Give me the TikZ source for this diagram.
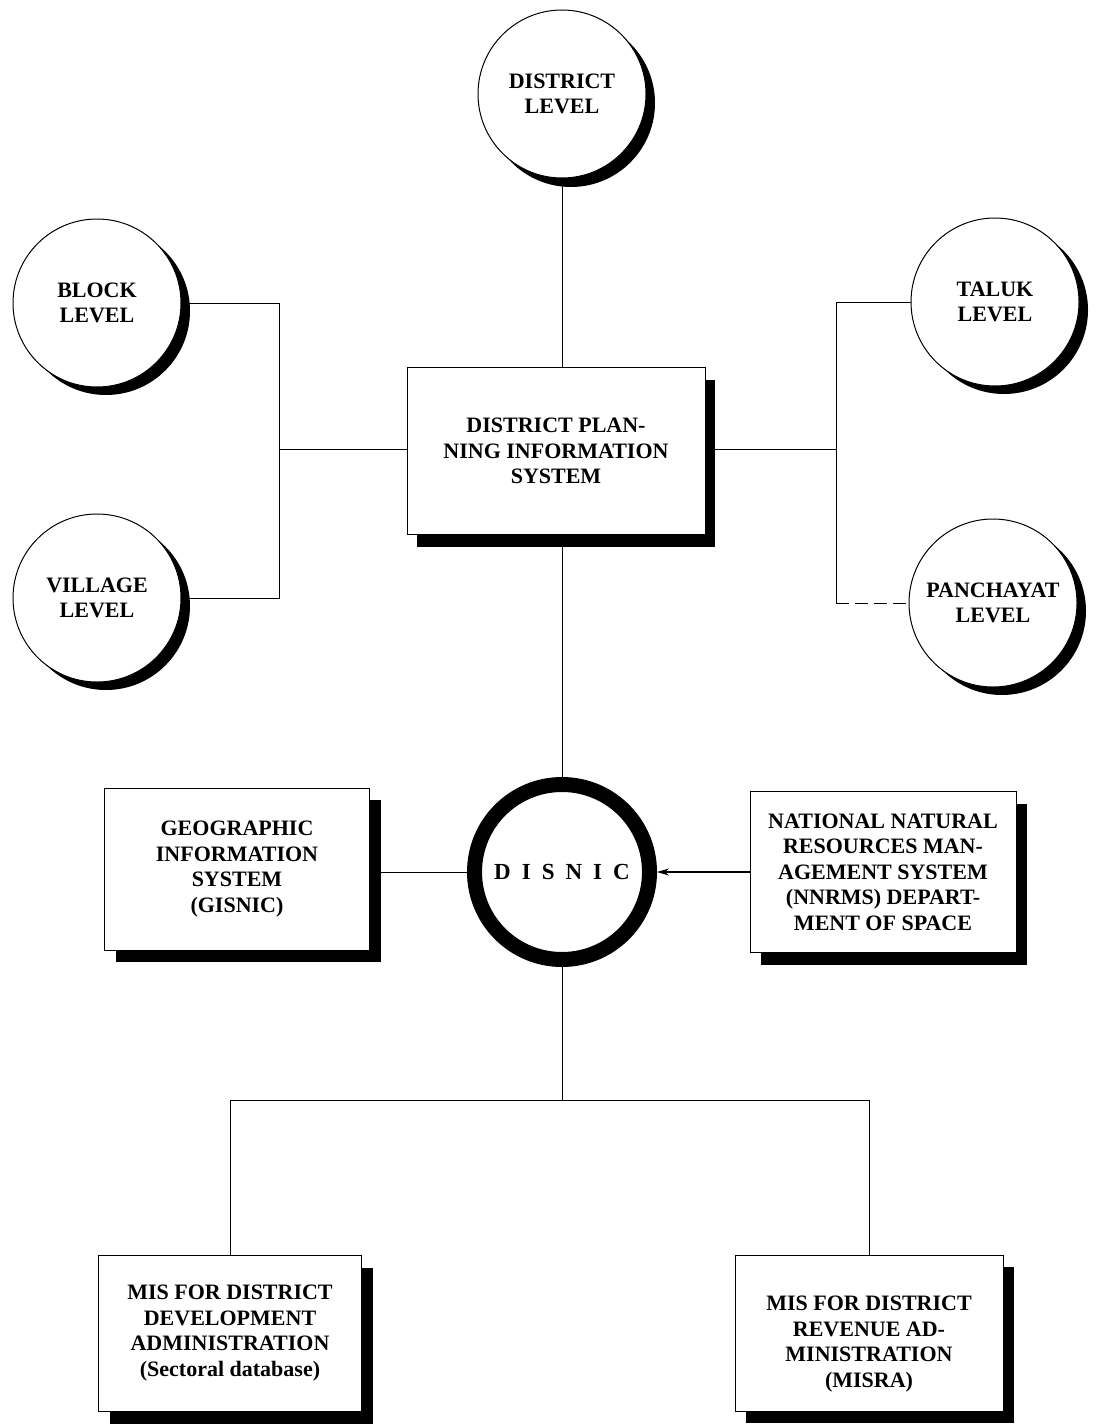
\documentclass[tikz,border=0pt]{standalone}
\usepackage{fontspec}
\setmainfont{Liberation Serif}
\usetikzlibrary{arrows.meta,backgrounds}
\begin{document}
\begin{tikzpicture}[x=1pt,y=-1pt,
  lbl/.style={font=\fontsize{22}{25.5}\selectfont\bfseries, align=center},
  lvl/.style={circle, draw, line width=1pt, fill=white, minimum size=168pt, inner sep=0pt, lbl},
  cshadow/.style={circle, fill=black, minimum size=168pt, inner sep=0pt},
  boxsh/.style={fill=black, inner sep=0pt},
  box/.style={draw, line width=0.9pt, fill=white, inner sep=0pt},
  conn/.style={line width=1pt}
]
\useasboundingbox (0,0) rectangle (1097,1426);

% level circles with shadows
\node[cshadow] (districtsh) at (571,103) {};
\node[lvl] (district) at (562,94) {DISTRICT\\LEVEL};
\node[cshadow] (blocksh) at (106,311) {};
\node[lvl] (block) at (97,303) {BLOCK\\LEVEL};
\node[cshadow] (villagesh) at (106,606) {};
\node[lvl] (village) at (97,598) {VILLAGE\\LEVEL};
\node[cshadow] (taluksh) at (1004,310) {};
\node[lvl] (taluk) at (995,302) {TALUK\\LEVEL};
\node[cshadow] (panchsh) at (1002,611) {};
\node[lvl] (panch) at (993,603) {PANCHAYAT\\LEVEL};

% DPIS box
\node[boxsh, minimum width=298pt, minimum height=167pt] (dpissh) at (566,463) {};
\node[box, minimum width=298pt, minimum height=167pt, lbl] (dpis) at (556,451)
  {DISTRICT PLAN-\\NING INFORMATION\\SYSTEM};

% DISNIC
\node[circle, draw, line width=15pt, fill=white, minimum size=175pt, inner sep=0pt,
  font=\fontsize{23}{25}\selectfont\bfseries] (disnic) at (562,872)
  {D\kern11pt I\kern11pt S\kern11pt N\kern11pt I\kern11pt C};

% GIS box
\node[boxsh, minimum width=265pt, minimum height=162pt] (gissh) at (248,881) {};
\node[box, minimum width=265pt, minimum height=162pt, lbl] (gis) at (237,869)
  {GEOGRAPHIC\\INFORMATION\\SYSTEM\\(GISNIC)};

% NNRMS box
\node[boxsh, minimum width=266pt, minimum height=161pt] (nnrmssh) at (894,884) {};
\node[box, minimum width=266pt, minimum height=161pt, lbl] (nnrms) at (883,872)
  {NATIONAL NATURAL\\RESOURCES MAN-\\AGEMENT SYSTEM\\(NNRMS) DEPART-\\MENT OF SPACE};

% MIS boxes
\node[boxsh, minimum width=263pt, minimum height=156pt] (mislsh) at (241,1346) {};
\node[box, minimum width=263pt, minimum height=156pt, lbl] (misl) at (230,1333)
  {MIS FOR DISTRICT\\DEVELOPMENT\\ADMINISTRATION\\(Sectoral database)};
\node[boxsh, minimum width=268pt, minimum height=156pt] (misrsh) at (880,1345) {};
\node[box, minimum width=268pt, minimum height=156pt] (misr) at (869,1333) {};
\node[lbl, inner sep=0pt] (misrtxt) at (869,1344)
  {MIS FOR DISTRICT\\REVENUE AD-\\MINISTRATION\\(MISRA)};

% connectors
\coordinate (lbus) at (279,449);
\coordinate (rbus) at (836,449);
\coordinate (split) at (562,1100);
\begin{pgfonlayer}{background}
\draw[conn] (district.south) -- (district.south |- dpis.north);
\draw[conn] (block.east) -- (block.east -| lbus) -- (village.east -| lbus) -- (village.east);
\draw[conn] (lbus) -- (lbus -| dpis.west);
\draw[conn] (taluk.west) -- (taluk.west -| rbus) -- (panch.west -| rbus);
\draw[conn] (rbus) -- (rbus -| dpis.east);
\draw[conn] (disnic.north) -- (disnic.north |- dpis.south);
\draw[conn] (disnic.south) -- (split);
\draw[conn] (misl.north) |- (split) -| (misr.north);
\end{pgfonlayer}
\draw[conn, dash pattern=on 13pt off 6pt] (panch.west -| rbus) -- (panch.west);
\draw[conn] (disnic.west -| gis.east) -- (disnic.west);
\draw[line width=1.2pt, -{Stealth[length=12pt,width=7pt]}] (disnic.east -| nnrms.west) -- (disnic.east);
\end{tikzpicture}
\end{document}
